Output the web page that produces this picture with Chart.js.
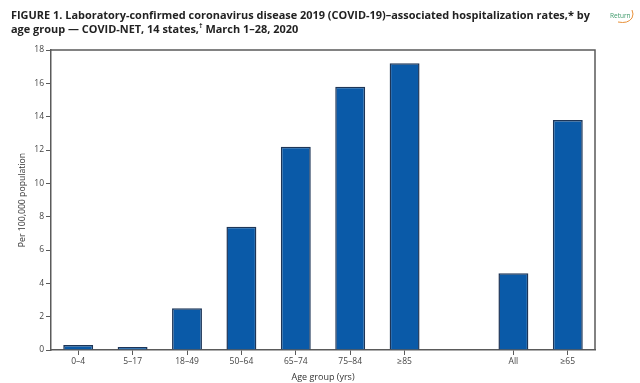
<!DOCTYPE html>
<html>
<head>
<meta charset="utf-8">
<title>COVID-NET hospitalization rates</title>
<script src="https://cdn.jsdelivr.net/npm/chart.js@4"></script>
<style>
    html, body { margin: 0; padding: 0; background: #fff; width: 640px; height: 383px; overflow: hidden; }
    #wrap { position: relative; width: 640px; height: 383px; }
    #chart { position: absolute; left: 0; top: 0; }
    #title {
        position: absolute; left: 11px; top: 8px; width: 590px;
        font: bold 10.95px/13.5px "Open Sans", sans-serif; color: #222; white-space: nowrap;
    }
    #title sup { font-size: 7px; line-height: 0; }
    #ret {
        position: absolute; left: 610px; top: 11px; font: 6.5px "Open Sans", sans-serif; color: #3f9a6b;
    }
    #ret-mark { position: absolute; left: 610px; top: 9px; }
</style>
</head>
<body>
<div id="wrap">
    <canvas id="chart" width="640" height="383"></canvas>
    <div id="title">FIGURE 1. Laboratory-confirmed coronavirus disease 2019 (COVID-19)–associated hospitalization rates,* by<br>age group — COVID-NET, 14 states,<sup>†</sup> March 1–28, 2020</div>
    <div id="ret">Return</div>
    <svg id="ret-mark" width="26" height="16"><path d="M8 13 Q18 15 22 9 Q24 5 22 1" fill="none" stroke="#e8913a" stroke-width="1"/></svg>
</div>
<script>
// values
const ageGroups = ['0–4', '5–17', '18–49', '50–64', '65–74', '75–84', '≥85', '', 'All', '≥65'];
const rates = [0.3, 0.1, 2.5, 7.4, 12.2, 15.8, 17.2, null, 4.6, 13.8];
const yTicks = [0, 2, 4, 6, 8, 10, 12, 14, 16, 18];

const AXIS_COLOR = '#5a5a5a';
const LABEL_COLOR = '#444444';
const BAR_COLOR = '#0a5aa8';
const BAR_EDGE = '#1d3557';

// top and right edges of the plot box
const plotFrame = {
    id: 'plotFrame',
    afterDraw(chart) {
        const { ctx, chartArea } = chart;
        ctx.save();
        ctx.strokeStyle = AXIS_COLOR;
        ctx.lineWidth = 1.5;
        ctx.beginPath();
        ctx.moveTo(chartArea.left, chartArea.top);
        ctx.lineTo(chartArea.right, chartArea.top);
        ctx.lineTo(chartArea.right, chartArea.bottom);
        ctx.stroke();
        ctx.restore();
    }
};

new Chart(document.getElementById('chart').getContext('2d'), {
    type: 'bar',
    data: {
        labels: ageGroups,
        datasets: [{
            data: rates,
            backgroundColor: BAR_COLOR,
            borderColor: BAR_EDGE,
            borderWidth: 1.5,
            categoryPercentage: 1,
            barPercentage: 0.55,
            minBarLength: 3
        }]
    },
    options: {
        responsive: false,
        animation: false,
        layout: { padding: { left: 0, top: 50, right: 45, bottom: 0 } },
        plugins: { legend: { display: false }, title: { display: false }, tooltip: { enabled: false } },
        scales: {
            x: {
                afterFit: (scale) => { scale.height = 33; },
                grid: {
                    offset: false,
                    drawOnChartArea: false,
                    tickLength: 5,
                    tickColor: (ctx) => (ageGroups[ctx.index] === '' ? 'transparent' : AXIS_COLOR)
                },
                border: { color: AXIS_COLOR, width: 1.5 },
                ticks: {
                    color: LABEL_COLOR, autoSkip: false, maxRotation: 0, padding: 1,
                    font: { family: 'Open Sans', size: 8.5 }
                },
                title: {
                    display: true, text: 'Age group (yrs)', color: '#333333', padding: { top: 2, bottom: 0 },
                    font: { family: 'Open Sans', size: 9 }
                }
            },
            y: {
                min: 0,
                max: 18,
                afterFit: (scale) => { scale.width = 51; },
                afterBuildTicks: (scale) => { scale.ticks = yTicks.map((value) => ({ value })); },
                grid: { drawOnChartArea: false, tickLength: 5, tickColor: AXIS_COLOR },
                border: { color: AXIS_COLOR, width: 1.5 },
                ticks: {
                    color: LABEL_COLOR, padding: 2,
                    font: { family: 'Open Sans', size: 8.5 }
                },
                title: {
                    display: true, text: 'Per 100,000 population', color: '#333333', padding: { top: 17, bottom: 0 },
                    font: { family: 'Open Sans', size: 8.7 }
                }
            }
        }
    },
    plugins: [plotFrame]
});
</script>
</body>
</html>
